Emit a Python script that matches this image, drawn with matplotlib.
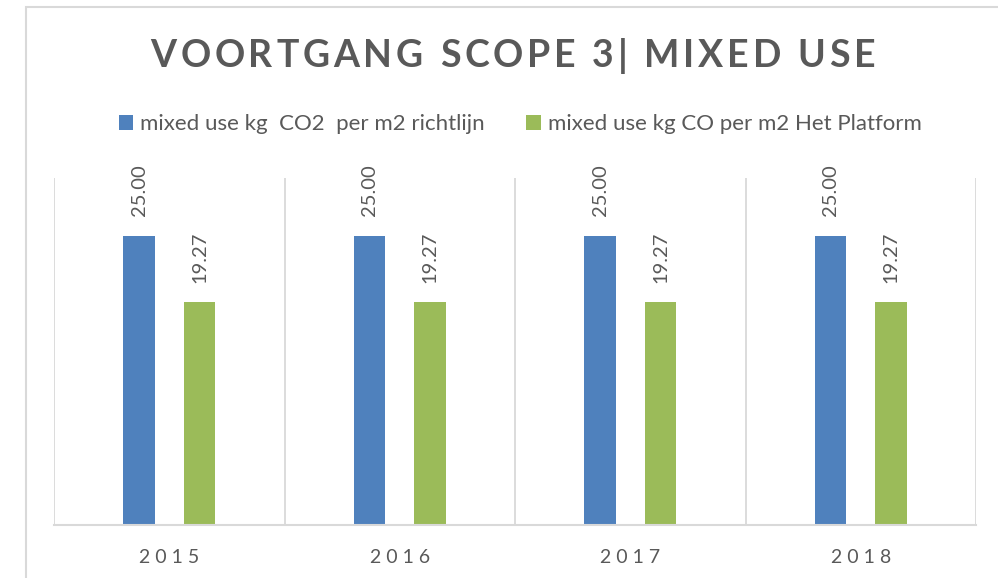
import matplotlib.pyplot as plt
from matplotlib.patches import Rectangle
import numpy as np

years = ['2015', '2016', '2017', '2018']
richtlijn = [25.00, 25.00, 25.00, 25.00]
platform = [19.27, 19.27, 19.27, 19.27]
series_names = ['mixed use kg  CO2  per m2 richtlijn',
                'mixed use kg CO per m2 Het Platform']
title = 'VOORTGANG SCOPE 3| MIXED USE'

blue = '#4F81BD'
green = '#9BBB59'
grey = '#595959'
light = '#D9D9D9'

plt.rcParams['font.family'] = ['Lato', 'DejaVu Sans']

fig = plt.figure(figsize=(9.98, 5.78), dpi=100)
ax = fig.add_axes([54 / 998, 53 / 578, 922 / 998, 347 / 578])

x = np.arange(len(years))
w = 0.135
off = 0.131
b1 = ax.bar(x - off, richtlijn, w, color=blue, label=series_names[0])
b2 = ax.bar(x + off, platform, w, color=green, label=series_names[1])

for bars, vals in [(b1, richtlijn), (b2, platform)]:
    for rect, v in zip(bars, vals):
        ax.annotate(f'{v:.2f}', (rect.get_x() + rect.get_width() / 2, rect.get_height()),
                    xytext=(0, 14), textcoords='offset points', rotation=90,
                    ha='center', va='bottom', fontsize=14.5, color=grey)

ax.set_xlim(-0.5, len(years) - 0.5)
ax.set_ylim(0, 30)
ax.set_yticks([])
ax.set_xticks(x)
ax.set_xticklabels([' '.join(y) for y in years], fontsize=14, color=grey)
ax.set_xticks(np.arange(-0.5, len(years)), minor=True)
ax.tick_params(axis='x', which='both', length=0, pad=17)
ax.grid(which='minor', axis='x', color=light, lw=1.3)
for s in ['top', 'right', 'left']:
    ax.spines[s].set_visible(False)
ax.spines['bottom'].set_color(light)
ax.spines['bottom'].set_linewidth(1.5)


def spaced_text(s, cx, cy, spacing, **kw):
    # draw text letter by letter to get the wide tracking of the title
    r = fig.canvas.get_renderer()

    def width(t):
        tt = fig.text(0, 0, t + 'X', **kw)
        wx = tt.get_window_extent(r).width
        tt.remove()
        return wx
    wX = width('')
    starts = [width(s[:i]) - wX for i in range(len(s))]
    total = width(s) - wX + spacing * (len(s) - 1)
    x0 = cx - total / 2
    for i, ch in enumerate(s):
        if ch == ' ':
            continue
        fig.text((x0 + starts[i] + i * spacing) / fig.bbox.width, cy / fig.bbox.height, ch,
                 ha='left', va='center', **kw)


spaced_text(title, 513, 578 - 56, 3.8, fontsize=27, fontweight='bold', color=grey)

fig.legend(handles=[b1, b2], loc='center', bbox_to_anchor=(520 / 998, 1 - 124 / 578),
           ncol=2, frameon=False, fontsize=16, labelcolor=grey,
           handlelength=0.65, handleheight=0.65, handletextpad=0.3, columnspacing=1.9)

# outer chart frame
fig.add_artist(Rectangle((26 / 998, -0.1), 1.2, 1 - 7 / 578 + 0.1, transform=fig.transFigure,
                         fill=False, edgecolor=light, lw=1.5))

fig.savefig('out.png', dpi=100)
